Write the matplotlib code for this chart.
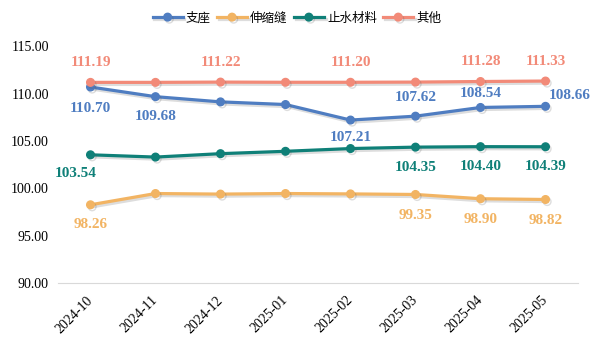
import matplotlib.pyplot as plt
import matplotlib.patheffects as pe

# ── data ──
months = ["2024-10", "2024-11", "2024-12", "2025-01",
          "2025-02", "2025-03", "2025-04", "2025-05"]
zhizuo = [110.70, 109.68, 109.13, 108.85, 107.21, 107.62, 108.54, 108.66]
shensuofeng = [98.26, 99.45, 99.39, 99.45, 99.41, 99.35, 98.90, 98.82]
zhishui = [103.54, 103.30, 103.66, 103.91, 104.20, 104.35, 104.40, 104.39]
qita = [111.19, 111.19, 111.22, 111.20, 111.20, 111.22, 111.28, 111.33]

names = ["支座", "伸缩缝", "止水材料", "其他"]
colors = ["#4F7DC1", "#F2B463", "#0F8078", "#F28A78"]

# which points get a label and where (dx, dy in pixels)
label_pos = [
    {0: (0, -21), 1: (0, -20), 4: (0, -17), 5: (0, 19), 6: (0, 14), 7: (24, 11)},
    {0: (0, -20), 5: (0, -21), 6: (0, -21), 7: (0, -21)},
    {0: (-15, -19), 5: (0, -20), 6: (0, -20), 7: (0, -20)},
    {0: (0, 20), 2: (0, 20), 4: (0, 20), 6: (0, 20), 7: (0, 20)},
]

plt.rcParams["font.family"] = ["Noto Sans CJK SC", "DejaVu Sans"]
W, H = 605, 347
fig = plt.figure(figsize=(W / 100, H / 100), dpi=100)
ax = fig.add_axes([58 / W, 1 - 283 / H, 520 / W, (283 - 46.3) / H])

x = list(range(len(months)))
series = [zhizuo, shensuofeng, zhishui, qita]
for vals, name, c, lp in zip(series, names, colors, label_pos):
    ax.plot(x, vals, color=c, lw=2.3, marker="o", ms=5.5, label=name,
            path_effects=[pe.SimpleLineShadow(offset=(1.2, -1.5), alpha=0.2,
                                              shadow_color="#555555"),
                          pe.Normal()])
    for i, (dx, dy) in lp.items():
        ax.annotate(f"{vals[i]:.2f}", (x[i], vals[i]),
                    xytext=(dx * 0.72, dy * 0.72),
                    textcoords="offset points", ha="center", va="center",
                    color=c, fontsize=11, fontweight="bold",
                    family="Liberation Serif")

ax.set_xlim(-0.5, len(months) - 0.5)
ax.set_ylim(90, 115)
yt = [90, 95, 100, 105, 110, 115]
ax.set_yticks(yt)
ax.set_yticklabels([f"{v:.2f}" for v in yt], family="Liberation Serif",
                   fontsize=10)
ax.set_xticks(x)
ax.set_xticklabels(months, rotation=45, ha="right", va="center",
                   rotation_mode="anchor", family="Liberation Serif",
                   fontsize=10)
ax.tick_params(axis="y", length=0, pad=6.5)
ax.tick_params(axis="x", length=0, pad=11)
for s in ["top", "right", "left"]:
    ax.spines[s].set_visible(False)
ax.spines["bottom"].set_color("#d9d9d9")

fig.legend(loc="center", bbox_to_anchor=(297 / W, 1 - 18 / H), ncol=4,
           frameon=False, fontsize=9, handlelength=2.4, columnspacing=0.5,
           handletextpad=0.25)

fig.savefig("out.png", dpi=100)
